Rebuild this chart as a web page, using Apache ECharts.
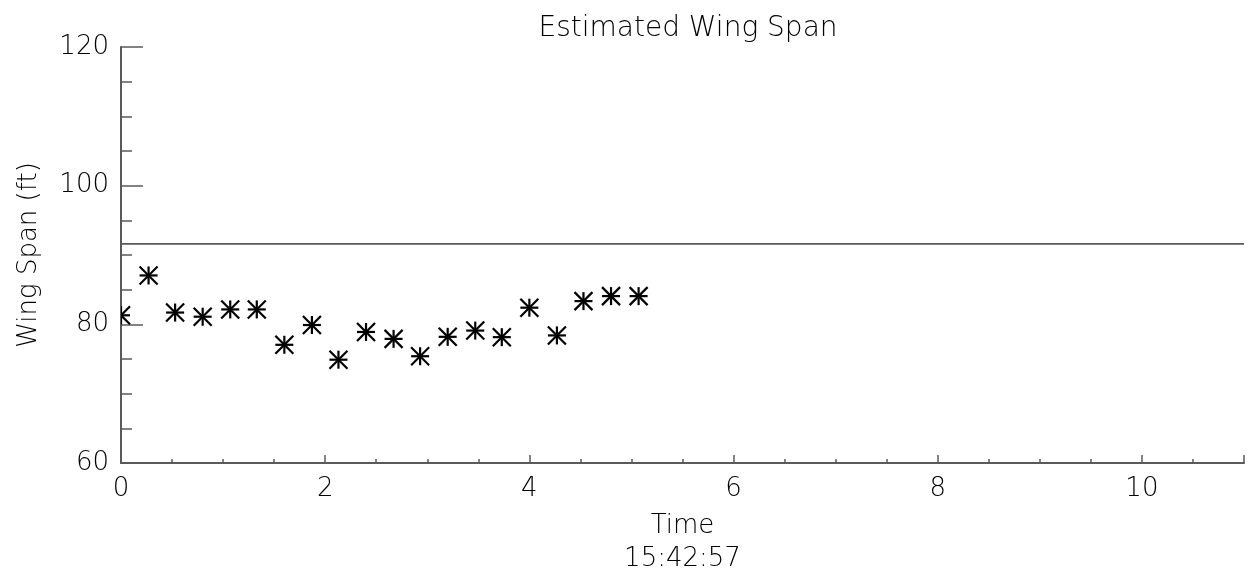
<!DOCTYPE html>
<html>
<head>
<meta charset="utf-8">
<title>Estimated Wing Span</title>
<script src="https://cdn.jsdelivr.net/npm/echarts@6/dist/echarts.min.js"></script>
<style>
  html, body { margin: 0; padding: 0; background: #fff; }
  #chart { width: 1249px; height: 575px; }
</style>
</head>
<body>
<div id="chart"></div>
<script>
// Sample times (relative units) and the estimated wing span at each sample
const times = [0.00, 0.27, 0.53, 0.80, 1.07, 1.33, 1.60, 1.87, 2.13, 2.40,
               2.67, 2.93, 3.20, 3.47, 3.73, 4.00, 4.27, 4.53, 4.80, 5.07];
const wingSpan = [81.3, 87.05, 81.7, 81.1, 82.15, 82.15, 77.05, 79.9, 74.9, 78.9,
                  77.9, 75.4, 78.2, 79.1, 78.15, 82.4, 78.4, 83.35, 84.07, 84.07];
// Reference wing span drawn as a horizontal line across the plot
const referenceSpan = 91.6;
const xRange = [0, 11];
const yRange = [60, 120];
const titleText = 'Estimated Wing Span';
const xTitle = 'Time';
const timeStamp = '15:42:57';
const yTitle = 'Wing Span (ft)';

const FONT = 'DejaVu Sans';
const WEIGHT = 200;
const INK = '#000';
const AXIS = '#5a5a5a';

const points = times.map((t, i) => [t, wingSpan[i]]);

// Asterisk glyph: vertical, horizontal and two diagonal strokes
function renderStar(params, api) {
  const c = api.coord([api.value(0), api.value(1)]);
  const r = 9;
  const style = { stroke: '#000', lineWidth: 2.2, lineCap: 'butt' };
  const seg = (x1, y1, x2, y2) => ({
    type: 'line',
    shape: { x1: c[0] + x1, y1: c[1] + y1, x2: c[0] + x2, y2: c[1] + y2 },
    style: style
  });
  return {
    type: 'group',
    children: [
      seg(0, -r, 0, r),
      seg(-r, 0, r, 0),
      seg(-r, -r, r, r),
      seg(-r, r, r, -r)
    ]
  };
}

const chart = echarts.init(document.getElementById('chart'), null, { renderer: 'canvas' });
chart.setOption({
  backgroundColor: '#fff',
  animation: false,
  title: {
    text: titleText,
    left: 683,
    textAlign: 'center',
    top: 10,
    textStyle: { fontFamily: FONT, fontSize: 28, fontWeight: WEIGHT, color: INK }
  },
  grid: { left: 121, right: 5, top: 47, bottom: 112, outerBoundsMode: 'none' },
  xAxis: {
    type: 'value',
    min: xRange[0],
    max: xRange[1],
    interval: 2,
    name: xTitle + '\n' + timeStamp,
    nameLocation: 'middle',
    nameGap: 47,
    nameTextStyle: { fontFamily: FONT, fontSize: 26, fontWeight: WEIGHT, color: INK, lineHeight: 33 },
    axisLine: { show: true, lineStyle: { color: AXIS, width: 2 } },
    axisTick: { show: true, inside: true, length: 8, lineStyle: { color: AXIS, width: 1.5 } },
    minorTick: { show: true, splitNumber: 4, length: 4, lineStyle: { color: AXIS, width: 1.5 } },
    axisLabel: {
      fontFamily: FONT, fontSize: 26, fontWeight: WEIGHT, color: INK, margin: 13,
      showMaxLabel: false
    },
    splitLine: { show: false }
  },
  yAxis: {
    type: 'value',
    min: yRange[0],
    max: yRange[1],
    interval: 20,
    name: yTitle,
    nameLocation: 'middle',
    nameGap: 79,
    nameTextStyle: { fontFamily: FONT, fontSize: 26, fontWeight: WEIGHT, color: INK },
    axisLine: { show: true, lineStyle: { color: AXIS, width: 2 } },
    axisTick: { show: true, inside: true, length: 22, lineStyle: { color: AXIS, width: 1.5 } },
    minorTick: { show: true, splitNumber: 4, length: 11, lineStyle: { color: AXIS, width: 1.5 } },
    axisLabel: { fontFamily: FONT, fontSize: 26, fontWeight: WEIGHT, color: INK, margin: 12 },
    splitLine: { show: false }
  },
  series: [
    {
      type: 'line',
      data: [[xRange[0], referenceSpan], [xRange[1], referenceSpan]],
      showSymbol: false,
      silent: true,
      lineStyle: { color: AXIS, width: 1.8 },
      z: 2
    },
    {
      type: 'custom',
      data: points,
      encode: { x: 0, y: 1 },
      clip: true,
      renderItem: renderStar,
      z: 3
    }
  ]
});
</script>
</body>
</html>
